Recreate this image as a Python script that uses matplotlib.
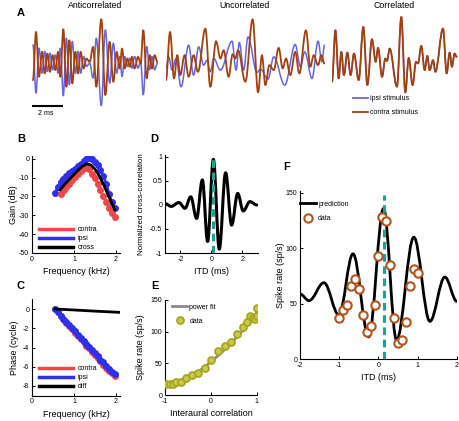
import numpy as np
import matplotlib
matplotlib.use("Agg")
import matplotlib.pyplot as plt
from matplotlib.path import Path
from matplotlib.patches import PathPatch
from matplotlib.lines import Line2D

plt.rcParams['font.family'] = ['Liberation Sans', 'DejaVu Sans']
plt.rcParams['axes.unicode_minus'] = False

# ---------------- Panel A : stimulus waveforms (extrema, ms / a.u.) -------------
anti_t = [0.06, 0.26, 0.45, 0.65, 0.82, 0.99, 1.16, 1.33, 1.51, 1.68, 1.83, 2.02, 2.22, 2.41,
          2.60, 2.80, 2.97, 3.14, 3.33, 3.51, 3.72, 3.94, 4.15, 4.47, 4.73, 5.01, 5.25, 5.46,
          5.66, 5.81, 5.98, 6.15, 6.30, 6.45, 6.62, 6.84, 7.01, 7.18, 7.40, 7.59, 7.74, 7.91, 8.09]
anti_contra = [-0.53, 0.92, -0.43, 0.32, -0.33, 0.27, -0.28, 0.22, -0.23, 0.32, -0.43, 1.00,
               -0.73, 0.67, -0.63, 0.32, -0.33, 0.32, -0.18, 0.12, 0.02, 0.47, -0.73, 1.30,
               -0.98, 0.62, -0.58, 0.32, -0.18, 0.42, -0.18, 0.12, -0.13, 0.17, -0.18, 0.17,
               -0.03, 0.97, -0.48, 0.22, -0.18, 0.22, 0.02]
anti_ipsi = [-v for v in anti_contra]

unc_contra_t = [0.00, 0.26, 0.52, 0.73, 0.92, 1.20, 1.46, 1.78, 2.06, 2.54, 2.86, 3.23, 3.51,
                3.72, 4.04, 4.30, 4.47, 4.65, 5.12, 5.59, 5.94, 6.19, 6.41, 6.67, 6.95, 7.27,
                7.53, 7.74, 8.02, 8.34, 8.60, 9.03, 9.31, 9.53, 9.81, 10.02, 10.22]
unc_contra = [-0.53, 0.92, -0.48, 0.22, -0.38, 0.22, -0.43, 0.22, -0.28, 1.02, -0.73, 0.64,
              0.12, 0.37, -0.43, 0.25, 0.12, 0.37, -0.58, 1.30, -0.90, 0.22, -0.68, -0.08,
              -0.23, 0.44, -0.18, 0.12, -0.38, 0.32, -0.33, 0.97, -0.13, 0.22, -0.08, 0.22, -0.03]
unc_ipsi_t = [0.00, 0.17, 0.39, 0.65, 0.97, 1.46, 1.78, 2.11, 2.43, 2.65, 2.86, 3.08, 3.51,
              4.26, 4.52, 4.73, 5.01, 5.29, 5.87, 6.09, 6.58, 6.95, 7.66, 8.34, 8.67, 8.95,
              9.42, 9.81, 10.06, 10.22]
unc_ipsi = [-0.18, 0.17, -0.23, 0.12, -0.73, 0.52, -0.38, 0.47, -0.08, 0.07, -0.28, 0.12,
            -0.23, 0.64, -0.23, 0.60, -0.23, 0.77, -0.30, -0.20, -0.50, 0.17, -0.68, 0.54,
            -0.13, 0.32, -0.48, 0.64, 0.02, 0.52]

cor_t = [0.00, 0.22, 0.43, 0.60, 0.77, 0.99, 1.20, 1.42, 1.72, 2.02, 2.28, 2.58, 2.82, 2.97,
         3.23, 3.44, 3.55, 3.72, 4.19, 4.47, 4.73, 4.95, 5.20, 5.42, 5.55, 5.76, 5.98, 6.15,
         6.30, 6.52, 6.67, 7.16, 7.40, 7.59, 7.74, 7.91, 8.04]
cor_contra = [-0.58, 0.97, -0.48, 0.32, -0.38, 0.30, -0.38, 0.27, -0.53, 1.07, -0.68, 0.70,
              0.02, 0.44, -0.43, 0.12, 0.05, 0.42, -0.73, 1.37, -0.90, 0.14, -0.68, 0.02,
              -0.03, 0.50, -0.23, 0.20, -0.23, 0.07, -0.28, 1.02, -0.33, 0.30, -0.13, 0.27, 0.17]
cor_ipsi = list(cor_contra)

# ---------------- Panel B : gain -------------
freq_ipsi = [0.55, 0.62, 0.69, 0.75, 0.82, 0.89, 0.96, 1.02, 1.09, 1.16, 1.23, 1.29, 1.36,
             1.43, 1.50, 1.56, 1.63, 1.70, 1.77, 1.83, 1.90, 1.97]
gain_ipsi = [-18.4, -14.8, -12.3, -10.8, -9.0, -7.7, -6.5, -5.3, -4.0, -2.7, -1.3, -0.3, 0.4,
             -0.3, -1.8, -3.5, -5.8, -8.9, -13.5, -18.5, -23.0, -26.3]
freq_contra = [0.69, 0.76, 0.82, 0.89, 0.96, 1.03, 1.09, 1.16, 1.23, 1.29, 1.36, 1.43, 1.49,
               1.56, 1.63, 1.70, 1.76, 1.83, 1.90, 1.97]
gain_contra = [-18.8, -16.8, -15.0, -13.2, -11.2, -9.5, -7.8, -6.2, -5.0, -4.8, -5.6, -7.8,
               -10.2, -13.2, -16.8, -19.7, -22.8, -26.0, -28.5, -30.7]
freq_cross = [0.67, 0.80, 0.95, 1.10, 1.20, 1.30, 1.40, 1.50, 1.60, 1.70, 1.80, 1.90, 1.97]
gain_cross = [-16.5, -13.0, -9.5, -6.0, -4.0, -2.8, -3.2, -5.5, -9.0, -13.5, -18.5, -23.5, -27.0]

# ---------------- Panel C : phase -------------
phase_ipsi = [0.0, -0.35, -0.7, -1.0, -1.35, -1.7, -2.0, -2.3, -2.65, -3.0, -3.3, -3.6, -3.95,
              -4.3, -4.6, -4.9, -5.25, -5.55, -5.9, -6.2, -6.5, -6.75]
phase_contra = [-0.75, -1.1, -1.45, -1.8, -2.1, -2.45, -2.8, -3.1, -3.45, -3.8, -4.1, -4.45,
                -4.8, -5.1, -5.45, -5.8, -6.1, -6.4, -6.7, -6.95]
freq_diff = [0.55, 1.0, 1.5, 2.1]
phase_diff = [0.0, -0.1, -0.22, -0.35]

# ---------------- Panel D : normalized cross-correlation (extrema) -------------
ccf_itd = [-3.0, -2.6, -2.1, -1.71, -1.34, -0.96, -0.59, -0.25, 0.12, 0.50, 0.91, 1.30, 1.69,
           2.05, 2.48, 2.92]
ccf_val = [0.03, -0.03, 0.05, -0.07, 0.17, -0.28, 0.52, -0.76, 0.95, -0.92, 0.67, -0.42, 0.24,
           -0.125, 0.07, 0.0]
best_itd = 0.12
ccf_ticks = [-1, -0.5, 0, 0.5, 1]
ccf_ticklabels = ['-1', '-0.5', '0', '0.5', '1']

# ---------------- Panel E : rate vs interaural correlation -------------
corr_data = [-0.97, -0.89, -0.83, -0.75, -0.66, -0.55, -0.42, -0.28, -0.13, 0.01, 0.16, 0.31,
             0.45, 0.58, 0.70, 0.80, 0.86, 0.93, 0.97, 1.0, 1.0]
rate_corr = [16.9, 17.9, 16.9, 21, 21, 26.3, 32, 34.7, 42, 56, 69.5, 77, 83.7, 96, 107, 115,
             125, 122, 120, 125, 137]
fit_corr = [-1.0, -0.75, -0.5, -0.25, 0.0, 0.25, 0.5, 0.75, 1.0]
fit_rate = [17, 21, 28, 38, 52, 68, 86, 106, 130]

# ---------------- Panel F : ITD tuning -------------
pred_itd = [-2.0, -1.77, -1.39, -1.01, -0.65, -0.25, 0.13, 0.46, 0.90, 1.31, 1.69, 2.0]
pred_rate = [58.7, 52.7, 68.9, 39.8, 95, 20, 136, 17, 110, 34, 74, 52]
itd_data = [-1.0, -0.9, -0.8, -0.7, -0.6, -0.5, -0.4, -0.3, -0.2, -0.1, 0.0, 0.1, 0.2, 0.3,
            0.4, 0.5, 0.6, 0.7, 0.8, 0.9, 1.0]
rate_itd = [37, 44, 49, 66, 72, 63, 40, 24, 30, 49, 93, 128, 125, 85, 37, 14, 17, 33, 66, 81, 78]
best_itd_f = 0.13

# ---------------- colours -------------
C_BROWN = '#A3400E'
C_SBLUE = '#6565E8'
C_RED = '#F04848'
C_BLUE = '#2F2FF0'
C_TEAL = '#22A094'
C_OLIVE = '#A6A620'
C_ORANGE = '#B5531C'

W, H = 460, 421
fig = plt.figure(figsize=(W / 100, H / 100), dpi=100)


def ax_px(left, top, right, bottom):
    return fig.add_axes([left / W, 1 - bottom / H, (right - left) / W, (bottom - top) / H])


def smooth(ax, t, v, color, lw, zorder=2):
    verts = [(t[0], v[0])]
    codes = [Path.MOVETO]
    for i in range(len(t) - 1):
        dt = t[i + 1] - t[i]
        verts += [(t[i] + 0.363 * dt, v[i]), (t[i + 1] - 0.363 * dt, v[i + 1]), (t[i + 1], v[i + 1])]
        codes += [Path.CURVE4] * 3
    ax.add_patch(PathPatch(Path(verts, codes), fill=False, edgecolor=color, lw=lw,
                           zorder=zorder, capstyle='round', joinstyle='round'))


def style(ax):
    for s in ['top', 'right']:
        ax.spines[s].set_visible(False)
    for s in ['left', 'bottom']:
        ax.spines[s].set_linewidth(0.8)
    ax.tick_params(direction='in', length=2, width=0.7, labelsize=5, pad=2)


TFS = 6.3
LFS = 6.5
LEGFS = 5

# ---- Panel A
axA = [ax_px(32, 15, 32 + 8.15 * 15.5, 110),
       ax_px(166, 15, 166 + 10.25 * 15.5, 110),
       ax_px(332, 15, 332 + 8.1 * 15.5, 110)]
segs = [(anti_t, anti_ipsi, anti_t, anti_contra, 8.15),
        (unc_ipsi_t, unc_ipsi, unc_contra_t, unc_contra, 10.25),
        (cor_t, cor_ipsi, cor_t, cor_contra, 8.1)]
for ax, (ti, vi, tc, vc, xm) in zip(axA, segs):
    ax.set_xlim(0, xm)
    ax.set_ylim(-1.43, 1.43)
    ax.axis('off')
    smooth(ax, ti, vi, C_SBLUE, 1.1, zorder=2)
    smooth(ax, tc, vc, C_BROWN, 1.3, zorder=3)
fig.text(95 / W, 1 - 6 / H, 'Anticorrelated', ha='center', va='center', fontsize=TFS)
fig.text(245 / W, 1 - 6 / H, 'Uncorrelated', ha='center', va='center', fontsize=TFS)
fig.text(394.5 / W, 1 - 6 / H, 'Correlated', ha='center', va='center', fontsize=TFS)
# scale bar 2 ms
axA[0].plot([0, 2], [-1.31, -1.31], color='k', lw=1.5, clip_on=False, solid_capstyle='butt')
axA[0].text(0.9, -1.55, '2 ms', ha='center', va='center', fontsize=5, clip_on=False)
hA = [Line2D([], [], color=C_SBLUE, lw=1.3), Line2D([], [], color=C_BROWN, lw=1.3)]
fig.legend(hA, ['ipsi stimulus', 'contra stimulus'], loc='upper left',
           bbox_to_anchor=(353 / W, 1 - 95 / H), frameon=False, fontsize=LEGFS,
           handlelength=2.2, handletextpad=0.3, labelspacing=1.0, borderpad=0, borderaxespad=0)

# ---- Panel B
axB = ax_px(32, 156, 32 + 2.1 * 42, 253)
style(axB)
axB.plot(freq_contra, gain_contra, '-o', color=C_RED, lw=2, ms=4, zorder=3)
axB.plot(freq_ipsi, gain_ipsi, '-o', color=C_BLUE, lw=2, ms=4, zorder=2)
axB.plot(freq_cross, gain_cross, '-', color='k', lw=2, zorder=4)
axB.set_xlim(0, 2.1)
axB.set_ylim(-50, 1.5)
axB.set_xticks([0, 1, 2])
axB.set_yticks([0, -10, -20, -30, -40, -50])
axB.set_xlabel('Frequency (kHz)', fontsize=LFS, labelpad=3)
axB.set_ylabel('Gain (dB)', fontsize=LFS, labelpad=1)
hB = [Line2D([], [], color=C_RED, lw=2.5), Line2D([], [], color=C_BLUE, lw=2.5),
      Line2D([], [], color='k', lw=2.5)]
axB.legend(hB, ['contra', 'ipsi', 'cross'], loc='upper left', bbox_to_anchor=(0.08, 0.275),
           frameon=False, fontsize=LEGFS, handlelength=4.9, handletextpad=0.7,
           labelspacing=0.3, borderpad=0, borderaxespad=0)

# ---- Panel C
axC = ax_px(32, 299.4, 32 + 2.1 * 42, 395.6)
style(axC)
axC.plot(freq_contra, phase_contra, '-o', color=C_RED, lw=2, ms=4, zorder=2)
axC.plot(freq_ipsi, phase_ipsi, '-o', color=C_BLUE, lw=2, ms=4, zorder=3)
axC.plot(freq_diff, phase_diff, '-', color='k', lw=2, zorder=4)
axC.set_xlim(0, 2.1)
axC.set_ylim(-9, 1)
axC.set_xticks([0, 1, 2])
axC.set_yticks([0, -2, -4, -6, -8])
axC.set_xlabel('Frequency (kHz)', fontsize=LFS, labelpad=3)
axC.set_ylabel('Phase (cycle)', fontsize=LFS, labelpad=3)
hC = [Line2D([], [], color=C_RED, lw=2.5), Line2D([], [], color=C_BLUE, lw=2.5),
      Line2D([], [], color='k', lw=2.5)]
axC.legend(hC, ['contra', 'ipsi', 'diff'], loc='upper left', bbox_to_anchor=(0.08, 0.315),
           frameon=False, fontsize=LEGFS, handlelength=4.9, handletextpad=0.7,
           labelspacing=0.3, borderpad=0, borderaxespad=0)

# ---- Panel D
axD = ax_px(165, 155, 258, 253)
style(axD)
smooth(axD, ccf_itd, ccf_val, 'k', 2.2, zorder=2)
axD.plot([best_itd, best_itd], [-1, 1], color=C_TEAL, lw=2.2, ls=(0, (2.5, 1.5)), zorder=3)
axD.set_xlim(-3, 3)
axD.set_ylim(-1, 1.04)
axD.set_xticks([-2, 0, 2])
axD.set_yticks(ccf_ticks)
axD.set_yticklabels(ccf_ticklabels)
axD.set_xlabel('ITD (ms)', fontsize=LFS, labelpad=3)
axD.set_ylabel('Normalized cross-correlation', fontsize=5.8, labelpad=4)

# ---- Panel E
axE = ax_px(165, 300, 257, 395)
style(axE)
axE.plot(fit_corr, fit_rate, '-', color='#8A8A8A', lw=2, zorder=2)
axE.plot(corr_data, rate_corr, 'o', ls='none', ms=5, mfc='#C8C84A', mec=C_OLIVE, mew=1.3, zorder=3)
axE.set_xlim(-1, 1.01)
axE.set_ylim(0, 150)
axE.set_xticks([-1, 0, 1])
axE.set_yticks([0, 50, 100, 150])
axE.set_xlabel('Interaural correlation', fontsize=LFS, labelpad=3)
axE.set_ylabel('Spike rate (sp/s)', fontsize=LFS, labelpad=4)
hE = [Line2D([], [], color='#8A8A8A', lw=2),
      Line2D([], [], ls='none', marker='o', ms=5, mfc='#C8C84A', mec=C_OLIVE, mew=1.3)]
axE.legend(hE, ['power fit', 'data'], loc='upper left', bbox_to_anchor=(0.077, 0.96),
           frameon=False, fontsize=LEGFS, handlelength=2.2, handletextpad=0.3,
           labelspacing=1.0, borderpad=0, borderaxespad=0)

# ---- Panel F
axF = ax_px(300, 190.7, 457, 359)
style(axF)
smooth(axF, pred_itd, pred_rate, 'k', 2.0, zorder=2)
axF.plot([best_itd_f, best_itd_f], [0, 148], color=C_TEAL, lw=2.2, ls=(0, (2.5, 1.5)), zorder=3)
axF.plot(itd_data, rate_itd, 'o', ls='none', ms=6, mfc='white', mec=C_ORANGE, mew=1.5, zorder=4)
axF.set_xlim(-2, 2)
axF.set_ylim(0, 152)
axF.set_xticks([-2, -1, 0, 1, 2])
axF.set_yticks([0, 50, 100, 150])
axF.set_xlabel('ITD (ms)', fontsize=LFS, labelpad=3)
axF.set_ylabel('Spike rate (sp/s)', fontsize=LFS, labelpad=0.5)
hF = [Line2D([], [], color='k', lw=2),
      Line2D([], [], ls='none', marker='o', ms=6, mfc='white', mec=C_ORANGE, mew=1.5)]
axF.legend(hF, ['prediction', 'data'], loc='upper left', bbox_to_anchor=(0.0, 0.94),
           frameon=False, fontsize=LEGFS, handlelength=2.3, handletextpad=0.3,
           labelspacing=1.1, borderpad=0, borderaxespad=0)

# ---- panel letters
for lab, x, y in [('A', 21, 12.5), ('B', 21, 139), ('D', 154.5, 139), ('C', 20.5, 286),
                  ('E', 154.5, 286), ('F', 287, 167)]:
    fig.text(x / W, 1 - y / H, lab, ha='center', va='center', fontsize=8, fontweight='bold')

fig.savefig('out.png', dpi=100)
